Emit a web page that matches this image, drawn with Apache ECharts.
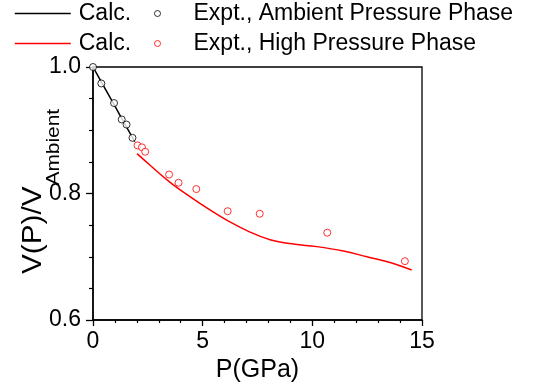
<!DOCTYPE html>
<html>
<head>
<meta charset="utf-8">
<script src="https://cdn.jsdelivr.net/npm/echarts@6/dist/echarts.min.js"></script>
<style>
html,body{margin:0;padding:0;background:#fff;}
#c{width:536px;height:388px;}
</style>
</head>
<body>
<div id="c"></div>
<script>
// Calculated curve, ambient pressure phase
var calcAmbP = [0, 0.5, 1.0, 1.5, 1.9];
var calcAmbV = [1.0, 0.969, 0.938, 0.907, 0.882];
// Experimental, ambient pressure phase
var exptAmbP = [0, 0.38, 0.96, 1.31, 1.53, 1.80];
var exptAmbV = [1.0, 0.974, 0.943, 0.917, 0.909, 0.888];
// Calculated curve, high pressure phase
var calcHPP = [2.01, 2.59, 3.5, 4.42, 5.33, 6.24, 7.16, 8.07, 9.14, 10.2, 11.42, 12.49, 13.55, 14.53];
var calcHPV = [0.863, 0.845, 0.818, 0.795, 0.774, 0.755, 0.739, 0.727, 0.720, 0.716, 0.709, 0.700, 0.691, 0.679];
// Experimental, high pressure phase
var exptHPP = [2.03, 2.23, 2.38, 3.47, 3.90, 4.71, 6.14, 7.60, 10.68, 14.22];
var exptHPV = [0.876, 0.873, 0.866, 0.830, 0.817, 0.807, 0.772, 0.768, 0.738, 0.693];
// Tick labels
var xTicks = [0, 5, 10, 15];
var yTicks = [0.6, 0.8, 1.0];

var legendLabels = {
  calcA: 'Calc.',
  exptA: 'Expt., Ambient Pressure Phase',
  calcH: 'Calc.',
  exptH: 'Expt., High Pressure Phase'
};

function pairs(xs, ys) { return xs.map(function (x, i) { return [x, ys[i]]; }); }

var FONT = "'Liberation Sans', Arial, sans-serif";
var FS = 23;
var TITLE_FS = 25;
var YT_FS = 27;
var SUB_FS = 19;
var STRETCH = 1.1;
var chart = echarts.init(document.getElementById('c'), null, {renderer: 'canvas'});

// measure main part of the y title to place the subscript after it
var ctx = document.createElement('canvas').getContext('2d');
ctx.font = YT_FS + "px 'Liberation Sans', Arial, sans-serif";
var mainW = ctx.measureText('V(P)/V').width * STRETCH;
var yTitleStart = 274;

function legendFor(name, left, top, isLine, color) {
  var lg = {
    data: [name],
    left: left,
    top: top,
    padding: 0,
    orient: 'horizontal',
    itemWidth: isLine ? 56 : 6,
    itemHeight: isLine ? 14 : 6,
    selectedMode: false,
    formatter: function (n) { return legendLabels[n]; },
    textStyle: {
      fontFamily: FONT,
      fontSize: FS,
      color: '#000',
      padding: isLine ? [0, 0, 0, 3] : [0, 0, 0, 28]
    }
  };
  if (isLine) {
    lg.itemStyle = {opacity: 0};
    lg.lineStyle = {color: color, width: 1.5};
  } else {
    lg.icon = 'circle';
    lg.itemStyle = {color: '#fff', borderColor: color, borderWidth: 1};
  }
  return lg;
}

var option = {
  backgroundColor: '#fff',
  animation: false,
  textStyle: {fontFamily: FONT},
  legend: [
    legendFor('calcA', 14, 2, true, '#000'),
    legendFor('exptA', 154, 2, false, '#000'),
    legendFor('calcH', 14, 32, true, '#ff0000'),
    legendFor('exptH', 154, 32, false, '#ff0000')
  ],
  graphic: [
    {
      type: 'text', rotation: Math.PI / 2, scaleX: STRETCH, x: 34, y: yTitleStart, silent: true,
      style: {text: 'V(P)/V', font: YT_FS + "px 'Liberation Sans', Arial, sans-serif", fill: '#000', align: 'left', verticalAlign: 'middle'}
    },
    {
      type: 'text', rotation: Math.PI / 2, scaleX: STRETCH, x: 54, y: yTitleStart - mainW - 1, silent: true,
      style: {text: 'Ambient', font: SUB_FS + "px 'Liberation Sans', Arial, sans-serif", fill: '#000', align: 'left', verticalAlign: 'middle'}
    }
  ],
  grid: {
    left: 93, right: 114, top: 67, bottom: 68,
    outerBoundsMode: 'none',
    containLabel: false,
    show: true, borderColor: '#000', borderWidth: 1.3,
    backgroundColor: 'transparent'
  },
  xAxis: {
    type: 'value',
    min: 0, max: 15, interval: 5,
    name: 'P(GPa)',
    nameLocation: 'middle',
    nameGap: 32,
    nameTextStyle: {fontFamily: FONT, fontSize: TITLE_FS, color: '#000'},
    axisLine: {show: true, onZero: false, lineStyle: {color: '#000', width: 1.5}},
    axisTick: {show: true, inside: false, length: 6, lineStyle: {color: '#000', width: 1.3}},
    minorTick: {show: true, splitNumber: 5, length: 3, lineStyle: {color: '#000', width: 1.2}},
    splitLine: {show: false},
    axisLabel: {
      fontFamily: FONT, fontSize: FS, color: '#000', margin: 10,
      formatter: function (v) { return xTicks.indexOf(v) >= 0 ? String(v) : ''; }
    }
  },
  yAxis: {
    type: 'value',
    min: 0.6, max: 1.0, interval: 0.2,
    axisLine: {show: true, onZero: false, lineStyle: {color: '#000', width: 1.5}},
    axisTick: {show: true, inside: false, length: 7, lineStyle: {color: '#000', width: 1.3}},
    minorTick: {show: true, splitNumber: 4, length: 4, lineStyle: {color: '#000', width: 1.2}},
    splitLine: {show: false},
    axisLabel: {
      fontFamily: FONT, fontSize: FS, color: '#000', margin: 12,
      formatter: function (v) {
        for (var i = 0; i < yTicks.length; i++) { if (Math.abs(yTicks[i] - v) < 1e-6) return yTicks[i].toFixed(1); }
        return '';
      }
    }
  },
  series: [
    {
      name: 'calcA', type: 'line', data: pairs(calcAmbP, calcAmbV),
      symbol: 'none', smooth: 0.3, z: 2,
      lineStyle: {color: '#000', width: 1.5},
      itemStyle: {color: '#000'}
    },
    {
      name: 'exptA', type: 'scatter', data: pairs(exptAmbP, exptAmbV),
      symbol: 'circle', symbolSize: 7, z: 3,
      itemStyle: {color: '#fff', borderColor: '#000', borderWidth: 1}
    },
    {
      name: 'calcH', type: 'line', data: pairs(calcHPP, calcHPV),
      symbol: 'none', smooth: 0.4, z: 2,
      lineStyle: {color: '#ff0000', width: 1.5},
      itemStyle: {color: '#ff0000'}
    },
    {
      name: 'exptH', type: 'scatter', data: pairs(exptHPP, exptHPV),
      symbol: 'circle', symbolSize: 7, z: 3,
      itemStyle: {color: '#fff', borderColor: '#ff0000', borderWidth: 1}
    }
  ]
};
chart.setOption(option);
</script>
</body>
</html>
